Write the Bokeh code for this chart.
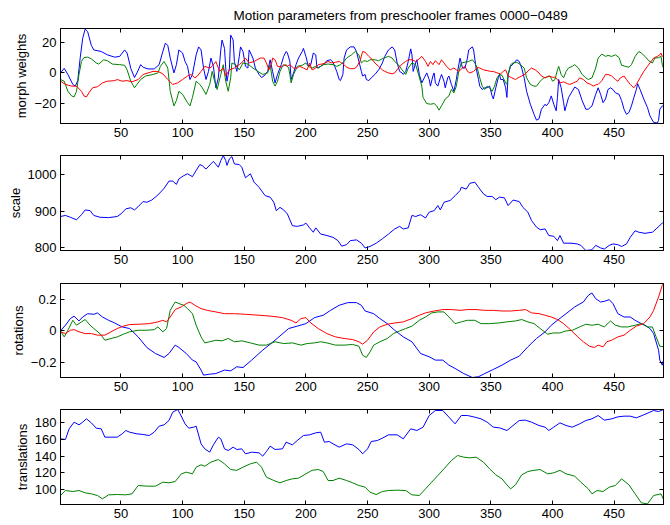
from bokeh.plotting import figure
from bokeh.layouts import column
from bokeh.models import Range1d, FixedTicker, LinearAxis, CustomJSTickFormatter, Title
from bokeh.embed import file_html
from bokeh.resources import INLINE

TITLE = "Motion parameters from preschooler frames 0000\u22120489"
FRAME_RANGE = (1, 490)
X_TICKS = [50, 100, 150, 200, 250, 300, 350, 400, 450]

# ---- panel 1: morph weights (frame, value) ----
MORPH_BLUE = [(1,0),(4,3),(7,-1),(11,-7.5),(13,-8.6),(15,-5),(17,10),(19,22.6),(21,28.6),(23,27),(26,18),(28,15),(34,14),(39,11.8),(45,10.3),(49,10.8),(53,15),(55,13),(58,3),(61,-3),(63,0),(66,5.4),(68,3.7),(72,2.6),(77,2.6),(81,5.4),(84,14),(86,19.4),(88,18),(90,9.7),(93,0),(95,5.4),(97,15),(100,13),(102,7.5),(104,4.3),(106,-4.3),(108,-1),(111,11.8),(113,17),(115,15),(117,3.2),(119,-4.3),(121,1),(123,9.7),(125,4.3),(127,-9.7),(129,-3.2),(131,15),(132,21.5),(134,16),(135,3.2),(136,-5.4),(138,3.2),(139,24.7),(141,21.5),(142,7.5),(144,1),(146,10.8),(147,17),(149,14),(151,4.3),(153,3.2),(154,15),(157,9.7),(159,3.2),(162,-1),(164,-3),(166,-2),(169,1),(171,8.6),(173,1),(175,-6.5),(177,-1),(180,5.4),(182,10.8),(184,14),(185,13),(187,7.5),(188,-4.3),(190,0),(192,5.4),(194,9.7),(197,14),(198,16),(200,10.8),(202,4.3),(204,5.4),(206,13),(208,11.8),(209,3.2),(212,4.3),(214,5.4),(217,8),(220,8.6),(222,7),(225,1),(227,-4.3),(228,-5),(230,-1),(231,9.7),(233,15),(236,17),(239,17),(241,14),(243,7.5),(245,1),(246,-2),(248,-1),(249,-4.3),(251,-5),(253,-3.2),(256,-1),(259,2),(262,6.5),(264,10.8),(267,15),(270,17),(272,15),(274,6.5),(276,1),(278,0),(279,-1),(281,1),(283,7.5),(285,15.7),(286,11.8),(287,1),(289,6.5),(290,8.6),(292,-1),(294,-6.5),(296,-3.2),(298,0),(300,-4.3),(301,-8.6),(303,-2),(304,0),(305,-6.5),(307,-8.6),(309,-3.2),(310,-1),(312,-5.4),(313,-9.7),(315,-3.2),(316,-2),(318,-7.5),(320,-12),(322,-4.3),(323,1),(325,9.7),(327,3.2),(329,3.2),(331,9.7),(332,15),(335,17),(336,15),(338,3.2),(340,-4.3),(341,-8.6),(343,-10.8),(345,-9.7),(347,-9.7),(349,-8.6),(351,-15),(352,-17),(354,-9.7),(356,-3.2),(357,-1),(358,-4.3),(360,-4.3),(362,-9.7),(363,-16),(364,-1),(366,4.3),(368,5.8),(371,8.6),(373,7.5),(375,3.2),(377,-3.2),(379,-12),(382,-20.4),(385,-27),(387,-30.8),(389,-30),(391,-23.7),(394,-20.4),(395,-21.5),(397,-19.4),(399,-15),(401,-20.4),(403,-24.7),(404,-16),(405,-4.3),(407,-9.7),(409,-19.4),(410,-24.7),(413,-16),(416,-12),(418,-9.2),(421,-10.8),(424,-18),(427,-23.7),(429,-23.7),(432,-21.5),(435,-14),(437,-9.7),(439,-14),(441,-19.4),(443,-17),(445,-10.8),(447,-9.7),(449,-10.8),(451,-13),(454,-14),(456,-18),(458,-23.7),(460,-27),(462,-25.8),(464,-21.5),(466,-16),(468,-10.8),(469,-7),(471,-10.8),(474,-17),(477,-22.6),(479,-28),(482,-32.3),(485,-32.7),(486,-31),(487,-23.7),(489,-21.5),(490,-21.5)]
MORPH_GREEN = [(1,-4.3),(4,-5.4),(7,-12),(10,-15),(12,-15.7),(14,-12),(16,-1),(18,7.5),(20,10),(23,10.3),(26,9.2),(30,6.5),(32,5.8),(36,8.6),(39,8),(43,5.8),(49,5.4),(53,5),(55,2),(58,-5.4),(61,-9.7),(63,-7.5),(66,-4.3),(70,-2),(76,-1),(80,0),(82,4.3),(85,7.5),(88,3.2),(90,-12),(93,-21.5),(95,-18),(97,-12),(100,-14),(104,-19.4),(106,-21.5),(108,-16),(111,-5.4),(114,-7.5),(116,-9.7),(119,-14),(122,-7.5),(124,1),(126,-5.4),(128,-10.8),(131,-1),(133,5.4),(135,-5.4),(137,-12),(139,-3.2),(140,6.5),(143,5.4),(146,2),(149,6.5),(153,5.8),(157,3.2),(161,1),(165,-1),(169,0),(171,5.4),(173,-5.4),(175,-8.6),(177,-5.4),(179,1),(181,4.3),(184,5.4),(186,3.2),(187,-1),(188,-6.5),(190,-1),(193,4.3),(197,5),(200,6.5),(202,4.3),(205,3.2),(208,4.3),(210,3.2),(214,5.4),(218,5.8),(222,5.4),(225,4.3),(228,5.4),(231,7.5),(233,9.7),(237,11.8),(240,14),(243,11.8),(245,6.5),(247,8),(250,7.5),(252,8.6),(256,8.6),(259,8),(263,9.7),(267,10.8),(270,9.7),(272,7.5),(275,5.4),(278,2),(281,-1),(283,3.2),(286,6.5),(289,5.4),(291,0),(294,-8.6),(295,-16),(298,-20),(301,-20.4),(304,-20),(306,-21.5),(308,-24.3),(310,-21.5),(313,-17),(316,-15),(318,-10.8),(320,-13),(322,-8.6),(324,1),(326,6.5),(329,7),(332,7.5),(335,8.6),(337,6.5),(339,3.2),(341,-3.2),(343,-8.6),(345,-10.8),(347,-8.6),(349,-9.7),(351,-12),(353,-8.6),(355,-3.2),(357,-1),(359,-1.5),(362,-6.5),(363,-7.5),(364,-1),(366,5.4),(368,6.5),(371,7),(374,5.4),(377,3.2),(379,-3.2),(382,-7.5),(385,-8.6),(387,-8.6),(390,-5.4),(393,-3.2),(395,-2.8),(398,-2),(400,-5.4),(402,-4.3),(404,2),(405,4.3),(407,-1),(409,-3.2),(411,1),(413,3.2),(416,4.3),(418,5.4),(421,3.2),(424,-1),(427,-3.2),(429,-4.3),(432,-3.2),(435,3.2),(437,9.7),(440,12.3),(443,10.8),(445,11.4),(448,10.8),(451,11.8),(454,10),(456,5),(459,4.3),(462,3.7),(464,5.4),(467,10.8),(470,14),(472,13),(475,10.8),(478,8),(481,6.5),(483,9.7),(486,10),(488,10.8),(489,5.4),(490,3.2)]
MORPH_RED = [(1,-5.4),(5,-7.5),(10,-8.6),(14,-8.6),(18,-12),(20,-15),(22,-15.7),(24,-13),(27,-9.7),(31,-9),(35,-6.5),(39,-5.4),(45,-5),(47,-4.3),(51,-5.4),(55,-5),(59,-5.8),(64,-4.3),(68,-1),(72,0),(76,1),(80,1),(84,-0.6),(88,-4.3),(92,-7.5),(96,-6.5),(100,-4.3),(104,-2),(107,-1),(110,-3.2),(112,-2),(115,1),(118,4.3),(122,3.2),(124,4.3),(127,7.5),(130,1),(133,3.2),(135,-2),(138,2),(142,3.2),(146,5.4),(149,7.5),(151,9.7),(154,6.5),(158,7.5),(163,9.7),(166,9.7),(168,6.5),(170,2),(172,5.4),(173,9.7),(175,8.6),(177,4.3),(180,3.9),(182,5.4),(185,4.3),(187,5.4),(190,3.2),(193,3.2),(195,4.3),(198,3.2),(201,2),(203,6.5),(205,2),(208,3.2),(210,5.4),(213,5.8),(216,6.5),(218,7.5),(221,6.5),(224,7),(227,7.5),(229,6.5),(231,5.4),(233,3.7),(236,2.8),(239,2.8),(241,3.7),(244,8),(246,14),(248,13.5),(251,10.8),(254,8.6),(256,6.5),(259,4.3),(262,2),(264,1),(267,0),(270,-0.6),(272,0),(275,3.2),(278,5.8),(281,7.5),(283,8.6),(286,8.6),(289,7.5),(291,8.6),(294,10.8),(297,7.5),(299,4.3),(301,7.5),(303,5.4),(305,8),(308,5.4),(310,8.6),(312,6.5),(314,4.3),(317,2),(320,3.2),(322,2),(324,1),(327,3.2),(329,4.3),(331,1),(333,0),(336,1),(339,3.7),(341,3.2),(344,2),(347,1.5),(350,1),(352,1),(355,0),(358,-0.6),(360,1),(362,2),(364,-2),(367,-3.2),(370,-4.3),(372,-3.2),(375,-2),(378,-0.6),(381,2),(383,3.2),(386,2),(389,0),(391,-2),(394,-3.2),(397,-2),(400,-2.8),(402,-2.8),(404,-4.3),(406,-6.5),(409,-5.8),(412,-7),(414,-7.5),(417,-6.5),(420,-5.4),(422,-3.2),(425,-4.3),(428,-6.5),(431,-7.5),(433,-8.6),(436,-7.5),(437,-7.5),(440,-5),(443,-1),(445,-1),(448,-2),(451,-4.3),(453,-5.4),(455,-3.2),(458,-2),(460,-4.3),(463,-7.5),(466,-9.7),(468,-7.5),(471,-3.2),(474,1),(477,4.3),(479,6.5),(482,9.7),(485,10.8),(487,11.8),(488,13),(489,10.8),(490,11.4)]

# ---- panel 2: scale ----
SCALE = [(1,886),(5,889),(9,884),(14,877),(18,891),(21,904),(25,902),(28,889),(33,884),(40,883),(47,886),(50,893),(54,907),(58,910),(61,904),(64,913),(68,927),(71,925),(75,931),(80,945),(85,963),(89,983),(92,983),(95,974),(97,989),(101,998),(104,1003),(108,995),(111,1012),(114,1028),(116,1025),(119,1016),(123,1030),(125,1037),(129,1021),(131,1039),(133,1053),(135,1039),(136,1026),(138,1044),(140,1050),(142,1030),(146,1028),(148,1021),(151,992),(155,1003),(158,980),(162,966),(167,943),(171,939),(174,925),(176,902),(179,911),(182,904),(185,893),(189,861),(193,859),(198,863),(200,868),(203,855),(206,843),(208,855),(212,838),(217,834),(222,829),(226,820),(229,805),(233,809),(236,820),(241,822),(245,813),(248,800),(252,804),(257,813),(262,825),(267,838),(272,852),(276,859),(279,852),(283,855),(286,889),(289,886),(293,891),(297,882),(300,898),(304,902),(307,916),(309,904),(312,925),(317,930),(321,943),(325,957),(326,966),(330,961),(333,977),(337,980),(340,966),(344,948),(347,941),(351,941),(354,932),(357,939),(361,937),(364,916),(368,931),(373,927),(376,911),(380,898),(383,875),(387,857),(390,850),(394,852),(397,834),(401,832),(404,820),(406,834),(409,813),(415,813),(420,811),(423,807),(427,793),(432,795),(435,807),(439,800),(442,797),(446,807),(449,811),(453,809),(456,804),(460,811),(463,829),(467,847),(470,843),(475,840),(481,843),(484,852),(489,868),(490,869)]

# ---- panel 3: rotations ----
ROT_BLUE = [(1,0),(5,0.036),(9,0.078),(12,0.093),(16,0.063),(19,0.088),(23,0.109),(28,0.105),(31,0.114),(35,0.088),(40,0.067),(45,0.05),(51,0.025),(57,0.015),(64,-0.038),(71,-0.105),(78,-0.143),(85,-0.168),(89,-0.143),(94,-0.09),(97,-0.105),(103,-0.143),(108,-0.185),(111,-0.196),(115,-0.248),(117,-0.28),(122,-0.274),(127,-0.27),(134,-0.248),(139,-0.253),(144,-0.227),(149,-0.232),(156,-0.185),(165,-0.122),(175,-0.059),(186,0.015),(193,0.03),(200,0.046),(207,0.084),(214,0.099),(220,0.13),(227,0.162),(234,0.179),(241,0.179),(245,0.162),(248,0.126),(255,0.109),(260,0.078),(266,0.046),(272,0.004),(279,-0.038),(286,-0.069),(293,-0.143),(300,-0.164),(305,-0.185),(311,-0.185),(316,-0.217),(321,-0.238),(328,-0.27),(335,-0.295),(340,-0.29),(345,-0.27),(352,-0.244),(359,-0.217),(366,-0.185),(373,-0.16),(380,-0.101),(387,-0.048),(394,-0.006),(399,0.036),(404,0.067),(411,0.109),(418,0.152),(425,0.183),(429,0.225),(432,0.24),(435,0.204),(439,0.183),(442,0.187),(446,0.198),(449,0.173),(453,0.109),(458,0.088),(463,0.088),(467,0.067),(472,0.046),(475,0.036),(479,0.015),(482,-0.017),(486,-0.122),(487,-0.185),(489,-0.217),(490,-0.185)]
ROT_GREEN = [(1,0),(4,-0.038),(7,0.004),(11,0.067),(14,0.036),(18,0.057),(21,0.072),(25,0.036),(28,0.015),(33,-0.017),(37,-0.059),(42,-0.048),(47,-0.038),(52,-0.021),(57,-0.006),(64,0.004),(71,0.004),(77,0.008),(80,0.025),(84,-0.006),(87,0.015),(90,0.13),(94,0.183),(97,0.173),(101,0.162),(104,0.141),(108,0.109),(111,0.036),(115,-0.038),(118,-0.076),(122,-0.069),(127,-0.059),(132,-0.063),(137,-0.048),(142,-0.069),(148,-0.063),(155,-0.076),(162,-0.09),(168,-0.09),(175,-0.069),(182,-0.08),(189,-0.076),(196,-0.09),(201,-0.08),(207,-0.076),(212,-0.069),(217,-0.076),(224,-0.09),(231,-0.09),(238,-0.086),(243,-0.097),(246,-0.154),(249,-0.168),(252,-0.133),(255,-0.09),(260,-0.069),(266,-0.048),(271,-0.017),(276,0),(281,0.015),(286,0.03),(292,0.067),(297,0.088),(302,0.114),(307,0.12),(312,0.12),(316,0.088),(321,0.046),(326,0.057),(331,0.067),(337,0.067),(342,0.046),(349,0.046),(356,0.05),(363,0.057),(370,0.063),(375,0.072),(380,0.057),(385,0.046),(390,0.015),(396,-0.021),(401,-0.013),(406,-0.013),(411,0),(416,0.004),(422,0.025),(427,0.042),(432,0.036),(437,0.042),(442,0.025),(447,0.063),(451,0.036),(456,0.025),(461,0.025),(467,0.036),(472,0.046),(477,0.025),(481,0.025),(484,-0.038),(487,-0.097),(490,-0.1)]
ROT_RED = [(1,-0.006),(5,-0.017),(9,0.004),(12,0.008),(16,-0.006),(21,-0.017),(26,-0.017),(31,-0.027),(37,-0.027),(42,-0.006),(47,0.015),(52,0.03),(57,0.04),(64,0.042),(73,0.046),(80,0.057),(84,0.067),(87,0.057),(90,0.088),(94,0.135),(99,0.152),(103,0.173),(106,0.183),(110,0.162),(115,0.141),(120,0.13),(127,0.12),(134,0.109),(142,0.109),(151,0.105),(162,0.099),(172,0.093),(181,0.084),(188,0.067),(192,0.05),(196,0.078),(200,0.084),(204,0.05),(210,0.015),(217,-0.017),(224,-0.038),(231,-0.048),(238,-0.055),(243,-0.069),(246,-0.084),(250,-0.059),(255,-0.006),(260,0.025),(266,0.042),(272,0.05),(279,0.057),(286,0.078),(292,0.099),(297,0.114),(304,0.126),(311,0.135),(318,0.135),(325,0.13),(331,0.135),(338,0.135),(345,0.13),(352,0.13),(359,0.126),(366,0.126),(373,0.13),(378,0.135),(383,0.114),(389,0.109),(394,0.099),(399,0.088),(404,0.072),(409,0.046),(415,0.004),(420,-0.034),(425,-0.069),(430,-0.097),(434,-0.105),(437,-0.09),(441,-0.101),(444,-0.069),(448,-0.059),(453,-0.038),(458,-0.027),(463,0.004),(468,0.03),(474,0.046),(479,0.088),(482,0.13),(486,0.215),(489,0.288),(490,0.3)]

# ---- panel 4: translations ----
TRANS_BLUE = [(1,160.8),(5,160),(8,172.8),(12,180.8),(16,177.6),(19,180.8),(22,184.8),(26,180),(30,173.6),(34,172.8),(37,162.8),(42,162.8),(47,162.8),(51,166.8),(54,170.8),(57,168.8),(63,166.8),(68,166),(73,164.8),(77,168.8),(81,176),(85,177.6),(89,182.8),(92,192.8),(96,196),(98,190.8),(102,178.8),(105,173.6),(109,174.8),(111,176),(115,154.8),(118,148.8),(122,144.8),(125,153.6),(129,162.8),(131,160.8),(134,148.8),(137,146.8),(141,150.8),(144,148),(148,148.8),(151,142.8),(156,144.8),(162,144),(165,140),(168,145.6),(171,152),(175,148),(181,148.8),(184,156.8),(189,153.6),(193,158.8),(198,164.8),(203,165.6),(208,168),(212,168.8),(215,156.8),(219,157.6),(222,154.8),(227,150.8),(233,154.8),(238,153.6),(243,148),(246,142.8),(250,148.8),(253,157.6),(258,158.8),(262,161.6),(267,165.6),(274,165.6),(279,160.8),(285,172.8),(290,170.8),(295,174.8),(300,188.8),(305,194.8),(311,194.8),(316,186.8),(321,178.8),(326,188.8),(331,188.8),(337,186.8),(342,184.8),(347,180.8),(352,174.8),(357,174),(363,170.8),(368,176.8),(373,182.8),(378,183.2),(383,180.8),(389,176.8),(394,174.8),(397,170.8),(401,174.8),(406,180),(411,176.8),(416,174.8),(422,178.8),(427,182.8),(432,184.8),(437,188.8),(442,183.2),(448,184.8),(453,187.2),(458,188),(463,188),(468,186),(474,189.6),(479,192.8),(482,194.8),(486,193.6),(490,196)]
TRANS_GREEN = [(1,92.8),(5,98.8),(11,97.6),(16,98.8),(21,96),(26,94.8),(31,92.8),(35,88.8),(40,93.6),(47,94),(54,93.6),(59,94.8),(64,104.8),(71,104),(78,104),(84,108.8),(89,108),(94,109.6),(99,118.8),(103,120.8),(108,118.8),(111,126.8),(115,129.6),(118,128),(123,132.8),(129,136),(134,130.8),(139,124),(144,123),(149,126.8),(155,130.8),(160,132.8),(164,126.8),(168,114.8),(174,110.8),(179,108),(184,110.8),(189,112.8),(194,113.6),(200,118.8),(205,123),(210,124),(214,121.6),(218,110.8),(222,110.8),(227,113.6),(233,110.8),(238,108),(243,104.8),(248,102.8),(252,96.8),(257,94),(262,97.6),(267,98.8),(274,99.2),(281,98.8),(286,93.6),(292,92.8),(297,100.8),(302,108.8),(307,116.8),(312,124.8),(318,134.8),(323,140.8),(328,138.8),(333,138),(338,138.8),(344,132.8),(349,124.8),(354,117.6),(359,112.8),(363,105.6),(366,100.8),(370,105.6),(375,117.6),(380,121.6),(385,123),(390,124),(396,118.8),(401,120),(406,123),(411,118.8),(418,116),(423,108.8),(429,100.8),(432,94.8),(436,98.8),(441,97.6),(446,102.8),(451,104.8),(456,112.8),(462,105.6),(467,94.8),(472,84),(477,82.8),(482,92.8),(488,94.8),(490,88)]

BLUE, GREEN, RED = "#0000ff", "#008000", "#ff0000"
FONT = "Liberation Sans"

Y_FORMAT = ("const a = Math.abs(tick);"
            "const s = (a == 0) ? '0' : (Number.isInteger(a) ? String(a) : a.toFixed(1));"
            "return (tick < 0 ? '\\u2212' : '') + s;")


def split(pairs):
    return [a for a, _ in pairs], [b for _, b in pairs]


def make_panel(ylabel, yrange, yticks, frame_h, top, bottom, series, title=None):
    p = figure(frame_width=603, frame_height=frame_h,
               x_range=Range1d(*FRAME_RANGE), y_range=Range1d(*yrange),
               output_backend="svg", toolbar_location=None,
               min_border_left=60, min_border_right=6,
               min_border_top=top, min_border_bottom=bottom,
               x_axis_location=None, y_axis_location=None)
    p.xgrid.visible = False
    p.ygrid.visible = False
    p.outline_line_color = "black"
    p.outline_line_width = 1
    p.background_fill_color = "white"
    p.border_fill_color = "white"

    def style(ax, hidden):
        ax.major_tick_in = 4
        ax.major_tick_out = 0
        ax.minor_tick_line_color = None
        ax.axis_line_color = "black"
        ax.major_tick_line_color = "black"
        ax.major_label_text_font = FONT
        ax.major_label_text_color = "black"
        if hidden:
            ax.formatter = CustomJSTickFormatter(code="return ''")
            ax.major_label_text_font_size = "1px"
            ax.major_label_standoff = 0
        else:
            ax.major_label_text_font_size = "13px"
            ax.major_label_standoff = 4

    xb = LinearAxis(ticker=FixedTicker(ticks=X_TICKS))
    style(xb, False)
    p.add_layout(xb, "below")
    xa = LinearAxis(ticker=FixedTicker(ticks=X_TICKS))
    style(xa, True)
    p.add_layout(xa, "above")

    yl = LinearAxis(ticker=FixedTicker(ticks=yticks), axis_label=ylabel)
    style(yl, False)
    yl.formatter = CustomJSTickFormatter(code=Y_FORMAT)
    yl.axis_label_text_font = FONT
    yl.axis_label_text_font_size = "13px"
    yl.axis_label_text_font_style = "normal"
    yl.axis_label_text_color = "black"
    yl.axis_label_standoff = 2
    p.add_layout(yl, "left")
    yr = LinearAxis(ticker=FixedTicker(ticks=yticks))
    style(yr, True)
    p.add_layout(yr, "right")

    if title is not None:
        p.title = Title(text=title, align="left", offset=173, vertical_align="top",
                        text_font=FONT, text_font_size="13.5px",
                        text_font_style="normal", text_color="black", standoff=8)

    for pairs, color in series:
        xs, ys = split(pairs)
        p.line(xs, ys, line_color=color, line_width=1)
    return p


p1 = make_panel("morph weights", (-33, 29), [-20, 0, 20], 95, 28, 22,
                [(MORPH_BLUE, BLUE), (MORPH_GREEN, GREEN), (MORPH_RED, RED)], title=TITLE)
p2 = make_panel("scale", (793, 1053), [800, 900, 1000], 95, 10, 23,
                [(SCALE, BLUE)])
p3 = make_panel("rotations", (-0.295, 0.30), [-0.2, 0, 0.2], 94, 10, 22,
                [(ROT_BLUE, BLUE), (ROT_GREEN, GREEN), (ROT_RED, RED)])
p4 = make_panel("translations", (82, 196), [100, 120, 140, 160, 180], 95, 10, 20,
                [(TRANS_BLUE, BLUE), (TRANS_GREEN, GREEN)])

layout = column(p1, p2, p3, p4, spacing=0)
open("out.html", "w").write(file_html(layout, INLINE))
